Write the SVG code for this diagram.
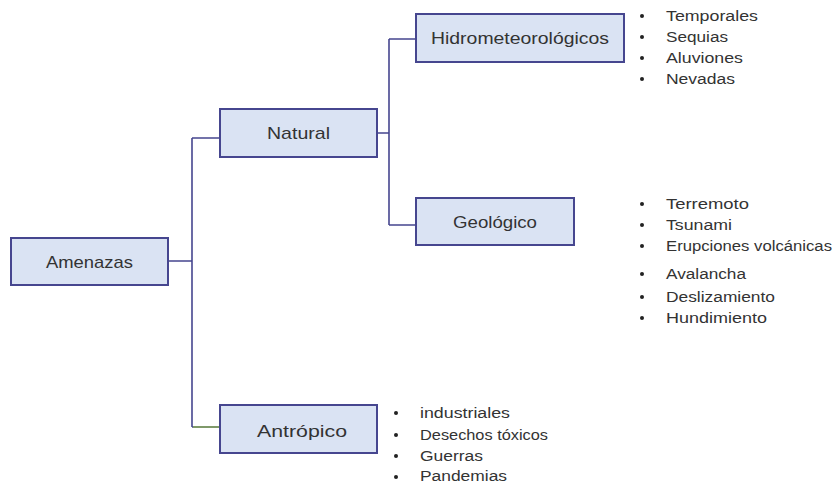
<svg xmlns="http://www.w3.org/2000/svg" width="833" height="485" viewBox="0 0 833 485">
<style>
.box{fill:#dae3f3;stroke:#46468f;stroke-width:2}
.lbl{font-family:"Liberation Sans",Arial,sans-serif;font-size:17px;fill:#333;text-anchor:middle}
.li{font-family:"Liberation Sans",Arial,sans-serif;font-size:15.5px;fill:#333}
.c{fill:none;stroke:#46468f;stroke-width:1.6}
.g{fill:none;stroke:#5f7f45;stroke-width:1.6}
.b{fill:#222}
</style>
<rect width="833" height="485" fill="#fff"/>
<g id="connectors">
<path class="c" d="M168 261H192M192 138V427M192 138H220M192 427H193"/>
<path class="g" d="M193 427H220"/>
<path class="c" d="M377 133H389M389 39V225M389 39H416M389 225H416"/>
</g>
<g id="amenazas">
<rect class="box" x="11" y="238" width="157" height="47"/>
<text class="lbl" x="89.5" y="268" textLength="87" lengthAdjust="spacingAndGlyphs">Amenazas</text>
</g>
<g id="natural">
<rect class="box" x="220" y="109" width="157" height="48"/>
<text class="lbl" x="298.5" y="139" textLength="63" lengthAdjust="spacingAndGlyphs">Natural</text>
</g>
<g id="hidrometeorologicos">
<rect class="box" x="416" y="14" width="208" height="48"/>
<text class="lbl" x="520" y="44" textLength="178" lengthAdjust="spacingAndGlyphs">Hidrometeorológicos</text>
</g>
<g id="geologico">
<rect class="box" x="416" y="198" width="158" height="47"/>
<text class="lbl" x="495" y="228" textLength="84" lengthAdjust="spacingAndGlyphs">Geológico</text>
</g>
<g id="antropico">
<rect class="box" x="220" y="405" width="157" height="48"/>
<text class="lbl" x="302" y="437" textLength="90" lengthAdjust="spacingAndGlyphs">Antrópico</text>
</g>
<g id="list-hidro">
<circle class="b" cx="642" cy="16" r="2"/><text class="li" x="666" y="21" textLength="92" lengthAdjust="spacingAndGlyphs">Temporales</text>
<circle class="b" cx="642" cy="37" r="2"/><text class="li" x="666" y="42" textLength="62" lengthAdjust="spacingAndGlyphs">Sequias</text>
<circle class="b" cx="642" cy="58" r="2"/><text class="li" x="666" y="63" textLength="77" lengthAdjust="spacingAndGlyphs">Aluviones</text>
<circle class="b" cx="642" cy="79" r="2"/><text class="li" x="666" y="84" textLength="69" lengthAdjust="spacingAndGlyphs">Nevadas</text>
</g>
<g id="list-geo">
<circle class="b" cx="642" cy="204" r="2"/><text class="li" x="666" y="209" textLength="83" lengthAdjust="spacingAndGlyphs">Terremoto</text>
<circle class="b" cx="642" cy="225" r="2"/><text class="li" x="666" y="230" textLength="66" lengthAdjust="spacingAndGlyphs">Tsunami</text>
<circle class="b" cx="642" cy="246" r="2"/><text class="li" x="666" y="251" textLength="166" lengthAdjust="spacingAndGlyphs">Erupciones volcánicas</text>
<circle class="b" cx="642" cy="274" r="2"/><text class="li" x="666" y="279" textLength="80" lengthAdjust="spacingAndGlyphs">Avalancha</text>
<circle class="b" cx="642" cy="297" r="2"/><text class="li" x="666" y="302" textLength="109" lengthAdjust="spacingAndGlyphs">Deslizamiento</text>
<circle class="b" cx="642" cy="318" r="2"/><text class="li" x="666" y="323" textLength="101" lengthAdjust="spacingAndGlyphs">Hundimiento</text>
</g>
<g id="list-antropico">
<circle class="b" cx="396" cy="413" r="2"/><text class="li" x="420" y="418" textLength="90" lengthAdjust="spacingAndGlyphs">industriales</text>
<circle class="b" cx="396" cy="435" r="2"/><text class="li" x="420" y="440" textLength="128" lengthAdjust="spacingAndGlyphs">Desechos tóxicos</text>
<circle class="b" cx="396" cy="456" r="2"/><text class="li" x="420" y="461" textLength="63" lengthAdjust="spacingAndGlyphs">Guerras</text>
<circle class="b" cx="396" cy="477" r="2"/><text class="li" x="420" y="481" font-size="15" textLength="87" lengthAdjust="spacingAndGlyphs">Pandemias</text>
</g>
</svg>
